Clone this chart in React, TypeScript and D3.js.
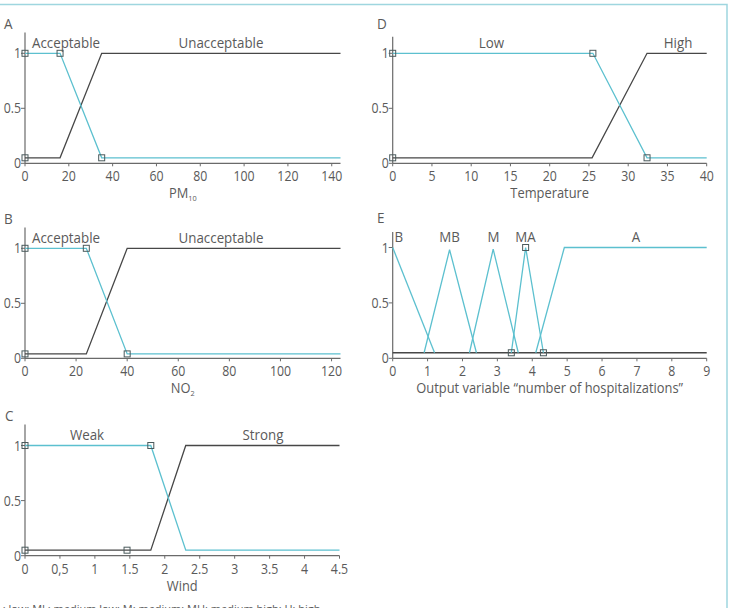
import React from "react";
import * as d3 from "d3";

// Membership functions (x, degree) for each fuzzy variable
const pm10Acceptable: [number, number][] = [[0, 1], [16, 1], [35, 0.05], [144, 0.05]];
const pm10Unacceptable: [number, number][] = [[0, 0.05], [16, 0.05], [35, 1], [144, 1]];
const pm10Markers: [number, number][] = [[0, 1], [16, 1], [35, 0.05], [0, 0.05]];

const no2Acceptable: [number, number][] = [[0, 1], [24, 1], [40, 0.04], [123.5, 0.04]];
const no2Unacceptable: [number, number][] = [[0, 0.04], [24, 0.04], [40, 1], [123.5, 1]];
const no2Markers: [number, number][] = [[0, 1], [24, 1], [40, 0.04], [0, 0.04]];

const windWeak: [number, number][] = [[0, 1], [1.8, 1], [2.3, 0.05], [4.5, 0.05]];
const windStrong: [number, number][] = [[0, 0.05], [1.8, 0.05], [2.3, 1], [4.5, 1]];
const windMarkers: [number, number][] = [[0, 1], [1.8, 1], [0, 0.05], [1.46, 0.05]];

const tempLow: [number, number][] = [[0, 1], [25.5, 1], [32.4, 0.05], [40, 0.05]];
const tempHigh: [number, number][] = [[0, 0.05], [25.4, 0.05], [32.4, 1], [40, 1]];
const tempMarkers: [number, number][] = [[0, 1], [25.5, 1], [32.4, 0.05], [0, 0.05]];

const outB: [number, number][] = [[0, 1], [1.2, 0.05]];
const outMB: [number, number][] = [[0.9, 0.05], [1.63, 0.98], [2.4, 0.05]];
const outM: [number, number][] = [[2.2, 0.05], [2.88, 0.985], [3.6, 0.05]];
const outMA: [number, number][] = [[3.4, 0.05], [3.81, 1], [4.32, 0.05]];
const outA: [number, number][] = [[4.1, 0.05], [4.92, 1], [9, 1]];
const outBase: [number, number][] = [[0, 0.05], [9, 0.05]];
const outMarkers: [number, number][] = [[3.81, 1], [3.4, 0.05], [4.32, 0.05]];

// Tick values and labels
const pm10Ticks = [0, 20, 40, 60, 80, 100, 120, 140];
const no2Ticks = [0, 20, 40, 60, 80, 100, 120];
const windTicks = [0, 0.5, 1, 1.5, 2, 2.5, 3, 3.5, 4, 4.5];
const windTickLabels = ["0", "0,5", "1", "1.5", "2", "2.5", "3", "3.5", "4", "4.5"];
const tempTicks = [0, 5, 10, 15, 20, 25, 30, 35, 40];
const outTicks = [0, 1, 2, 3, 4, 5, 6, 7, 8, 9];
const yTicks = [0, 0.5, 1];
const yTickLabels = ["0", "0.5", "1"];

const CYAN = "#5cc0cf";
const DARK = "#474747";
const AXIS = "#6a6a6a";
const TEXT = "#5a5a5a";
const FONT = "'Open Sans', sans-serif";

// Text drawn slightly condensed horizontally
function T(props: {
  x: number;
  y: number;
  size: number;
  anchor?: "start" | "middle" | "end";
  sx?: number;
  children: React.ReactNode;
}) {
  const sx = props.sx ?? 0.9;
  return (
    <text
      transform={`translate(${props.x},${props.y}) scale(${sx},1)`}
      textAnchor={props.anchor || "start"}
      fontSize={props.size}
      fill={TEXT}
      fontFamily={FONT}
    >
      {props.children}
    </text>
  );
}

type Series = { points: [number, number][]; color: string };
type Label = { text: string; x: number; anchor?: "start" | "middle" | "end" };

type PanelProps = {
  letter: string;
  letterX: number;
  x0: number;
  x1: number;
  yZero: number;
  yOne: number;
  yTop: number;
  xMax: number;
  ticks: number[];
  tickLabels?: string[];
  series: Series[];
  markers: [number, number][];
  labels: Label[];
  title: React.ReactNode;
};

function Panel(p: PanelProps) {
  const x = d3.scaleLinear().domain([0, p.xMax]).range([p.x0, p.x1]);
  const y = d3.scaleLinear().domain([0, 1]).range([p.yZero, p.yOne]);
  const line = d3
    .line<[number, number]>()
    .x((d) => x(d[0]))
    .y((d) => y(d[1]));
  const axisY = p.yZero;
  const titleX = (p.x0 + p.x1) / 2;
  return (
    <g>
      <T x={p.letterX} y={y(1) - 24.5} size={15}>
        {p.letter}
      </T>
      {/* y axis */}
      <line x1={p.x0} x2={p.x0} y1={y(p.yTop)} y2={axisY} stroke={AXIS} strokeWidth={1.2} />
      {yTicks.map((t, i) => (
        <g key={t}>
          <line x1={p.x0 - 4} x2={p.x0} y1={y(t)} y2={y(t)} stroke={AXIS} strokeWidth={1} />
          <T x={p.x0 - 4} y={y(t) + 5} size={14} anchor="end" sx={0.88}>
            {yTickLabels[i]}
          </T>
        </g>
      ))}
      {/* x axis */}
      <line x1={p.x0} x2={p.x1} y1={axisY} y2={axisY} stroke={AXIS} strokeWidth={1.2} />
      {p.ticks.map((t, i) => (
        <g key={t}>
          <line x1={x(t)} x2={x(t)} y1={axisY} y2={axisY + 3} stroke={AXIS} strokeWidth={1} />
          <T x={x(t)} y={axisY + 18} size={14} anchor="middle" sx={0.88}>
            {p.tickLabels ? p.tickLabels[i] : String(t)}
          </T>
        </g>
      ))}
      <T x={titleX} y={axisY + 35} size={14} anchor="middle" sx={0.92}>
        {p.title}
      </T>
      {/* membership functions */}
      {p.series.map((s, i) => (
        <path key={i} d={line(s.points) || ""} fill="none" stroke={s.color} strokeWidth={1.3} />
      ))}
      {p.markers.map((m, i) => (
        <rect
          key={i}
          x={x(m[0]) - 3}
          y={y(m[1]) - 3}
          width={6}
          height={6}
          fill="none"
          stroke="#4a5a5c"
          strokeWidth={1}
        />
      ))}
      {p.labels.map((l, i) => (
        <T key={i} x={l.x} y={y(1) - 5.5} size={14.5} anchor={l.anchor || "middle"} sx={0.92}>
          {l.text}
        </T>
      ))}
    </g>
  );
}

export default function App() {
  return (
    <svg
      width={730}
      height={608}
      style={{ position: "absolute", left: 0, top: 0, background: "#fff" }}
    >
      <rect x={0} y={0} width={730} height={608} fill="#fff" />
      {/* frame */}
      <path d="M0,4.5 H727 V608" fill="none" stroke="#9fd6df" strokeWidth={1.5} />

      <Panel
        letter="A"
        letterX={4}
        x0={25}
        x1={340.5}
        yZero={163.3}
        yOne={53.3}
        yTop={1.19}
        xMax={144}
        ticks={pm10Ticks}
        series={[
          { points: pm10Unacceptable, color: DARK },
          { points: pm10Acceptable, color: CYAN },
        ]}
        markers={pm10Markers}
        labels={[
          { text: "Acceptable", x: 66 },
          { text: "Unacceptable", x: 221 },
        ]}
        title={
          <>
            PM
            <tspan fontSize={8} dy={3}>
              10
            </tspan>
          </>
        }
      />
      <Panel
        letter="B"
        letterX={4}
        x0={25}
        x1={340.5}
        yZero={358.3}
        yOne={248.3}
        yTop={1.19}
        xMax={123.5}
        ticks={no2Ticks}
        series={[
          { points: no2Unacceptable, color: DARK },
          { points: no2Acceptable, color: CYAN },
        ]}
        markers={no2Markers}
        labels={[
          { text: "Acceptable", x: 66 },
          { text: "Unacceptable", x: 221 },
        ]}
        title={
          <>
            NO
            <tspan fontSize={8} dy={3}>
              2
            </tspan>
          </>
        }
      />
      <Panel
        letter="C"
        letterX={5}
        x0={25}
        x1={339.5}
        yZero={555.7}
        yOne={445.5}
        yTop={1.19}
        xMax={4.5}
        ticks={windTicks}
        tickLabels={windTickLabels}
        series={[
          { points: windStrong, color: DARK },
          { points: windWeak, color: CYAN },
        ]}
        markers={windMarkers}
        labels={[
          { text: "Weak", x: 87 },
          { text: "Strong", x: 263 },
        ]}
        title="Wind"
      />
      <Panel
        letter="D"
        letterX={377}
        x0={392.7}
        x1={706.7}
        yZero={163.3}
        yOne={53.3}
        yTop={1.15}
        xMax={40}
        ticks={tempTicks}
        series={[
          { points: tempHigh, color: DARK },
          { points: tempLow, color: CYAN },
        ]}
        markers={tempMarkers}
        labels={[
          { text: "Low", x: 491.5 },
          { text: "High", x: 678 },
        ]}
        title="Temperature"
      />
      <Panel
        letter="E"
        letterX={377}
        x0={392.7}
        x1={706.7}
        yZero={358.3}
        yOne={247.5}
        yTop={1.14}
        xMax={9}
        ticks={outTicks}
        series={[
          { points: outBase, color: DARK },
          { points: outB, color: CYAN },
          { points: outMB, color: CYAN },
          { points: outM, color: CYAN },
          { points: outMA, color: CYAN },
          { points: outA, color: CYAN },
        ]}
        markers={outMarkers}
        labels={[
          { text: "B", x: 394.5, anchor: "start" },
          { text: "MB", x: 449.5 },
          { text: "M", x: 493.5 },
          { text: "MA", x: 525.5 },
          { text: "A", x: 636 },
        ]}
        title="Output variable “number of hospitalizations”"
      />

      <text x={-3} y={613} fontSize={11} fill={TEXT} fontFamily={FONT}>
        L: low; ML: medium low; M: medium; MH: medium high; H: high
      </text>
    </svg>
  );
}
